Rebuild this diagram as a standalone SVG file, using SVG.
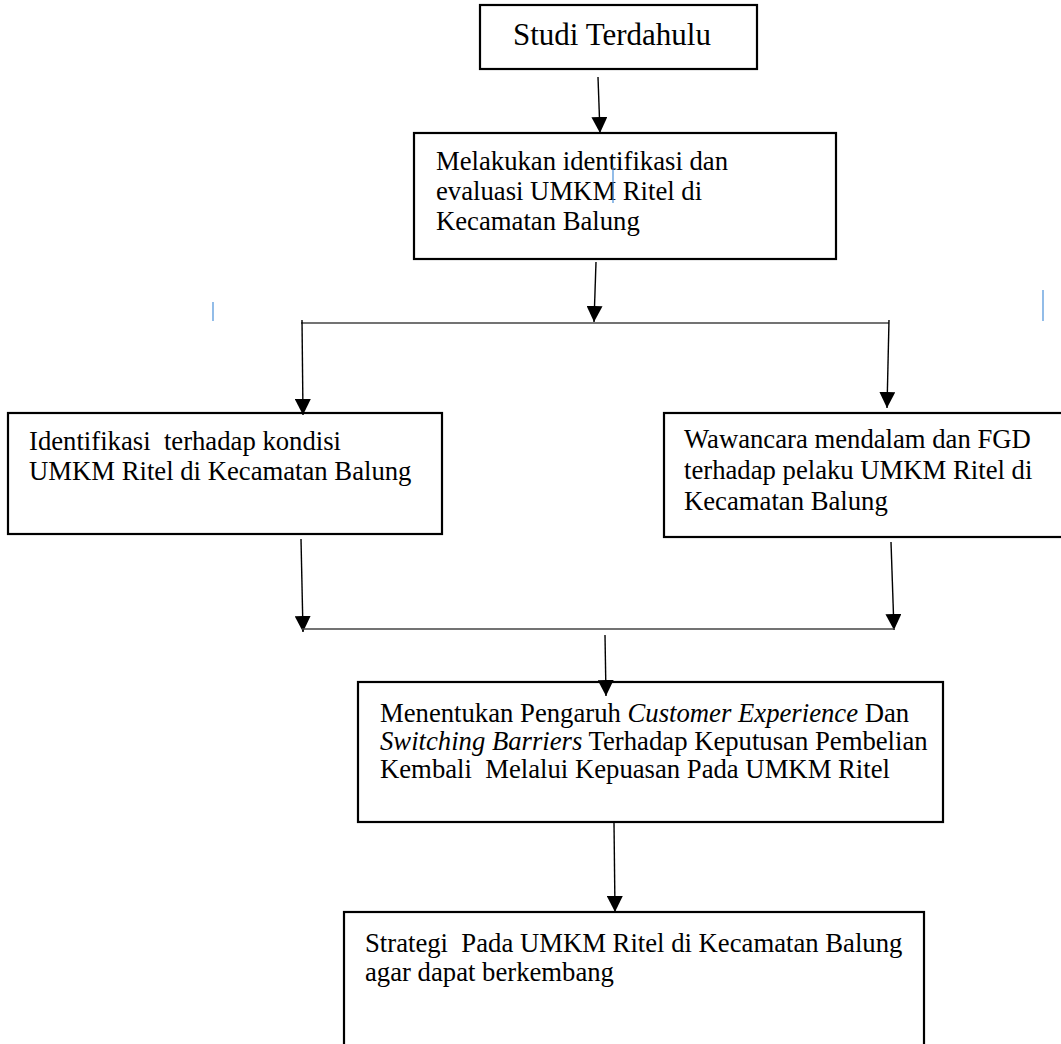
<svg xmlns="http://www.w3.org/2000/svg" width="1061" height="1044" viewBox="0 0 1061 1044">
<style>
  .box { fill: #ffffff; stroke: #000000; stroke-width: 2.2; }
  .t { font-family: "Liberation Serif", "Times New Roman", serif; font-size: 26.7px; fill: #000000; white-space: pre; }
  .title { font-size: 31px; }
  .it { font-style: italic; }
  .con { stroke: #000000; stroke-width: 1.4; fill: none; }
  .bar { stroke: #444444; stroke-width: 1.6; fill: none; }
  .cursor { stroke: #4a90d9; stroke-width: 1.2; }
</style>
<defs>
  <marker id="ah" markerUnits="userSpaceOnUse" markerWidth="16" markerHeight="16" refX="16" refY="8" orient="auto">
    <path d="M0,0 L16,8 L0,16 Z" fill="#000000"/>
  </marker>
</defs>
<rect width="1061" height="1044" fill="#ffffff"/>

<g id="node-studi">
  <rect class="box" x="480" y="5" width="277" height="64"/>
  <text class="t title" x="513" y="45">Studi Terdahulu</text>
</g>

<g id="node-identifikasi-evaluasi">
  <rect class="box" x="414" y="133" width="422" height="126"/>
  <text class="t" x="436" y="170">Melakukan identifikasi dan</text>
  <text class="t" x="436" y="200">evaluasi UMKM Ritel di</text>
  <text class="t" x="436" y="230">Kecamatan Balung</text>
  <line class="cursor" x1="613" y1="167" x2="613" y2="203"/>
</g>

<g id="marks">
  <line class="cursor" x1="213" y1="302" x2="213" y2="321"/>
  <line class="cursor" x1="1043" y1="290" x2="1043" y2="321"/>
</g>

<g id="node-kondisi">
  <rect class="box" x="8" y="413" width="434" height="121"/>
  <text class="t" x="29" y="450">Identifikasi  terhadap kondisi</text>
  <text class="t" x="29" y="480">UMKM Ritel di Kecamatan Balung</text>
</g>

<g id="node-wawancara">
  <rect class="box" x="664" y="413" width="405" height="124"/>
  <text class="t" x="684" y="448">Wawancara mendalam dan FGD</text>
  <text class="t" x="684" y="479">terhadap pelaku UMKM Ritel di</text>
  <text class="t" x="684" y="510">Kecamatan Balung</text>
</g>

<g id="node-pengaruh">
  <rect class="box" x="358" y="682" width="585" height="140"/>
  <text class="t" x="380" y="722">Menentukan Pengaruh <tspan class="it">Customer Experience</tspan> Dan</text>
  <text class="t" x="380" y="750"><tspan class="it">Switching Barriers</tspan> Terhadap Keputusan Pembelian</text>
  <text class="t" x="380" y="778">Kembali  Melalui Kepuasan Pada UMKM Ritel</text>
</g>

<g id="node-strategi">
  <rect class="box" x="344" y="912" width="580" height="140"/>
  <text class="t" x="365" y="952">Strategi  Pada UMKM Ritel di Kecamatan Balung</text>
  <text class="t" x="365" y="981">agar dapat berkembang</text>
</g>

<g id="connectors">
  <line class="con" x1="598" y1="77" x2="600" y2="133" marker-end="url(#ah)"/>
  <line class="con" x1="596" y1="262" x2="594" y2="322" marker-end="url(#ah)"/>
  <line class="bar" x1="301" y1="323" x2="889" y2="323"/>
  <line class="con" x1="302" y1="320" x2="303" y2="415" marker-end="url(#ah)"/>
  <line class="con" x1="889" y1="320" x2="887" y2="408" marker-end="url(#ah)"/>
  <line class="con" x1="301" y1="539" x2="303" y2="632" marker-end="url(#ah)"/>
  <line class="con" x1="891" y1="542" x2="894" y2="630" marker-end="url(#ah)"/>
  <line class="bar" x1="302" y1="629" x2="895" y2="629"/>
  <line class="con" x1="605" y1="635" x2="606" y2="696" marker-end="url(#ah)"/>
  <line class="con" x1="614" y1="823" x2="615" y2="912" marker-end="url(#ah)"/>
</g>
</svg>
